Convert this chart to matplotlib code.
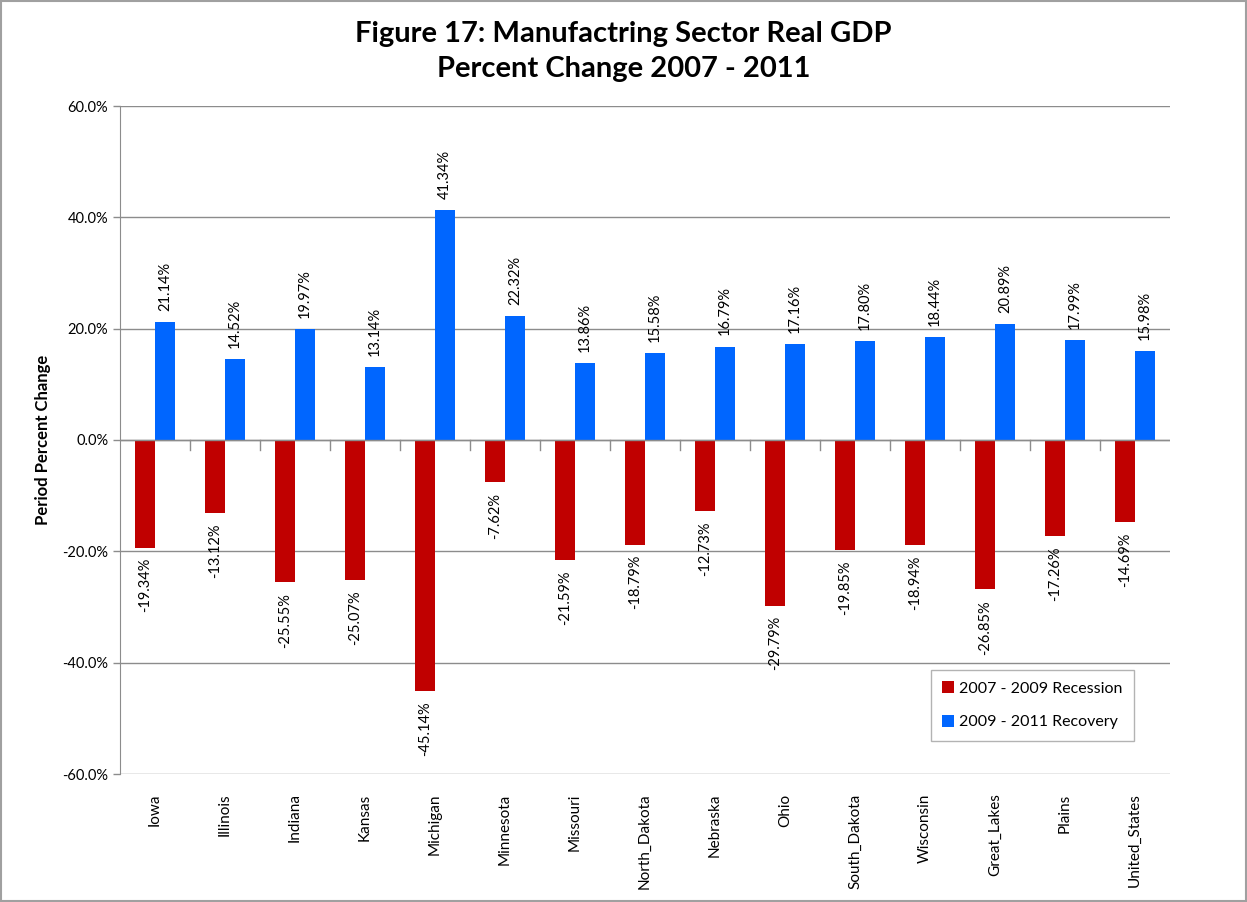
import matplotlib.pyplot as plt
import numpy as np
from matplotlib.ticker import FuncFormatter

plt.rcParams['font.family'] = ['Lato', 'DejaVu Sans']

regioes = ['Iowa', 'Illinois', 'Indiana', 'Kansas', 'Michigan', 'Minnesota', 'Missouri',
           'North_Dakota', 'Nebraska', 'Ohio', 'South_Dakota', 'Wisconsin', 'Great_Lakes',
           'Plains', 'United_States']
recessao = [-19.34, -13.12, -25.55, -25.07, -45.14, -7.62, -21.59, -18.79, -12.73,
            -29.79, -19.85, -18.94, -26.85, -17.26, -14.69]
recuperacao = [21.14, 14.52, 19.97, 13.14, 41.34, 22.32, 13.86, 15.58, 16.79,
               17.16, 17.80, 18.44, 20.89, 17.99, 15.98]

cor_vermelho = '#C00000'
cor_azul = '#0066FF'
cor_grade = '#8C8C8C'

fig = plt.figure(figsize=(12.47, 9.02), dpi=100)
ax = fig.add_axes([120 / 1247, 1 - 774 / 902, 1050 / 1247, 668 / 902])

x = np.arange(len(regioes))
largura = 0.286
ax.bar(x - largura / 2, recessao, largura, color=cor_vermelho, label='2007 - 2009 Recession', zorder=3)
ax.bar(x + largura / 2, recuperacao, largura, color=cor_azul, label='2009 - 2011 Recovery', zorder=3)

# rótulos de valor girados
for xi, v in zip(x - largura / 2, recessao):
    ax.annotate(f'{v:.2f}%', (xi, v), xytext=(0, -7.5), textcoords='offset points',
                rotation=90, ha='center', va='top', fontsize=10.5)
for xi, v in zip(x + largura / 2, recuperacao):
    ax.annotate(f'{v:.2f}%', (xi, v), xytext=(0, 8), textcoords='offset points',
                rotation=90, ha='center', va='bottom', fontsize=10.5)

ax.set_xlim(-0.5, len(regioes) - 0.5)
ax.set_ylim(-60, 60)
ax.set_yticks(np.arange(-60, 61, 20))
ax.yaxis.set_major_formatter(FuncFormatter(lambda v, p: f'{v:.1f}%'))
ax.grid(axis='y', color=cor_grade, linewidth=1, zorder=0)
ax.set_xticks(x)
ax.set_xticklabels(regioes, rotation=90, fontsize=11)
ax.tick_params(axis='x', length=0, pad=14)
ax.tick_params(axis='y', length=5, color=cor_grade, labelsize=10.5, width=1)

for lado in ['top', 'right', 'bottom']:
    ax.spines[lado].set_visible(False)
ax.spines['left'].set_color(cor_grade)

# eixo de categorias na linha do zero, com marcas entre categorias
ax.axhline(0, color=cor_grade, linewidth=1, zorder=4)
for xb in np.arange(0.5, len(regioes) - 0.5, 1):
    ax.plot([xb, xb], [0, -1.8], color=cor_grade, linewidth=1, zorder=4, clip_on=False)

ax.set_ylabel('Period Percent Change', fontsize=12, fontweight='bold', labelpad=8)
fig.suptitle('Figure 17: Manufactring Sector Real GDP\nPercent Change 2007 - 2011',
             fontsize=21, fontweight='bold', y=0.977, linespacing=1.45)

leg = ax.legend(loc='lower right', bbox_to_anchor=(0.973, 0.038), fontsize=11.5,
                frameon=True, fancybox=False, edgecolor='#A0A0A0', handlelength=0.75,
                handleheight=0.75, handletextpad=0.3, labelspacing=1.2, borderpad=0.7)
leg.get_frame().set_linewidth(1)

fig.patches.append(plt.Rectangle((0.001, 0.001), 0.998, 0.998, transform=fig.transFigure,
                                 fill=False, edgecolor='#A0A0A0', linewidth=1.5))

fig.savefig('out.png', dpi=100)
